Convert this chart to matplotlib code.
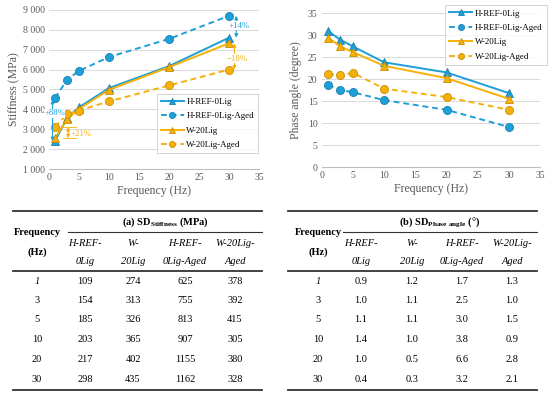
import matplotlib
matplotlib.use("Agg")
import matplotlib.pyplot as plt
from matplotlib.ticker import FuncFormatter

plt.rcParams['font.family'] = ['Liberation Serif', 'DejaVu Serif']
plt.rcParams['mathtext.fontset'] = 'custom'
plt.rcParams['mathtext.rm'] = 'Liberation Serif'
plt.rcParams['mathtext.bf'] = 'Liberation Serif:bold'

freq = [1, 3, 5, 10, 20, 30]

# stiffness (MPa)
stiff_ref = [2400, 3560, 4100, 5070, 6170, 7600]
stiff_ref_aged = [4560, 5480, 5930, 6630, 7540, 8700]
stiff_w20 = [2550, 3500, 4020, 4980, 6120, 7320]
stiff_w20_aged = [3110, 3750, 3940, 4400, 5200, 6000]

# phase angle (degree)
phase_ref = [30.9, 28.9, 27.4, 23.8, 21.5, 16.8]
phase_ref_aged = [18.7, 17.5, 17.0, 15.2, 13.0, 9.1]
phase_w20 = [29.4, 27.4, 26.1, 23.0, 20.2, 15.5]
phase_w20_aged = [21.1, 20.9, 21.4, 17.8, 15.9, 13.0]

series_names = ['H-REF-0Lig', 'H-REF-0Lig-Aged', 'W-20Lig', 'W-20Lig-Aged']

# standard deviation tables
col_heads = [('H-REF-', '0Lig'), ('W-', '20Lig'), ('H-REF-', '0Lig-Aged'), ('W-20Lig-', 'Aged')]
sd_stiff = [[109, 274, 625, 378],
            [154, 313, 755, 392],
            [185, 326, 813, 415],
            [203, 365, 907, 305],
            [217, 402, 1155, 380],
            [298, 435, 1162, 328]]
sd_phase = [['0.9', '1.2', '1.7', '1.3'],
            ['1.0', '1.1', '2.5', '1.0'],
            ['1.1', '1.1', '3.0', '1.5'],
            ['1.4', '1.0', '3.8', '0.9'],
            ['1.0', '0.5', '6.6', '2.8'],
            ['0.4', '0.3', '3.2', '2.1']]

BLUE = '#1e9fd8'
BLUE_E = '#1a7fb0'
ORANGE = '#f5b10a'
ORANGE_E = '#c98d00'
GRID = '#d9d9d9'
TXT = '#595959'

fig = plt.figure(figsize=(5.5, 3.94), dpi=100)


def style_axes(ax):
    for s in ['top', 'right', 'left']:
        ax.spines[s].set_visible(False)
    ax.spines['bottom'].set_color('#bfbfbf')
    ax.yaxis.grid(True, color=GRID, lw=0.7)
    ax.set_axisbelow(True)
    ax.tick_params(length=0, labelsize=7, colors=TXT, pad=3)
    ax.set_xlim(0, 35)
    ax.set_xticks(range(0, 36, 5))
    ax.set_xlabel('Frequency (Hz)', fontsize=8.5, color=TXT, labelpad=2)


def draw_series(ax, data):
    styles = [(BLUE, BLUE_E, '-', '^'), (BLUE, BLUE_E, '--', 'o'),
              (ORANGE, ORANGE_E, '-', '^'), (ORANGE, ORANGE_E, '--', 'o')]
    for vals, name, (c, ec, ls, m) in zip(data, series_names, styles):
        ax.plot(freq, vals, color=c, ls=ls, lw=1.4, marker=m, ms=5.8,
                mfc=c, mec=ec, mew=0.6, label=name, dashes=(3, 2) if ls == '--' else (None, None))


def make_legend(ax, loc, anchor):
    leg = ax.legend(loc=loc, bbox_to_anchor=anchor, fontsize=6.4, frameon=True,
                    fancybox=False, edgecolor='#bfbfbf', handlelength=2.6,
                    handletextpad=0.3, borderpad=0.45, labelspacing=0.7,
                    markerscale=0.75, borderaxespad=0)
    leg.get_frame().set_linewidth(0.6)
    return leg


# ---- left chart: stiffness
ax1 = fig.add_axes([0.089, 0.571, 0.382, 0.404])
style_axes(ax1)
draw_series(ax1, [stiff_ref, stiff_ref_aged, stiff_w20, stiff_w20_aged])
ax1.set_ylim(1000, 9000)
ax1.set_yticks(range(1000, 9001, 1000))
ax1.yaxis.set_major_formatter(FuncFormatter(lambda v, p: '{:,}'.format(int(v)).replace(',', ' ')))
ax1.set_ylabel('Stiffness (MPa)', fontsize=8.5, color=TXT, labelpad=2)
make_legend(ax1, 'lower right', (0.995, 0.10))

# percent annotations
arr = dict(arrowstyle='<|-|>', lw=0.8, mutation_scale=5, shrinkA=0, shrinkB=0)
ax1.annotate('', xy=(0.6, stiff_ref_aged[0] - 80), xytext=(0.6, stiff_ref[0]),
             arrowprops=dict(arr, color=BLUE))
ax1.text(0.95, 3800, '+88%', color=BLUE, fontsize=6.2, ha='center', va='center',
         bbox=dict(fc='white', ec='none', pad=0.3))
ax1.annotate('', xy=(3.2, stiff_w20_aged[0]), xytext=(3.2, stiff_w20[0]),
             arrowprops=dict(arr, color=ORANGE))
ax1.plot([2.3, 4.5], [stiff_w20_aged[0]] * 2, color=ORANGE, lw=0.6)
ax1.plot([2.3, 4.5], [stiff_w20[0]] * 2, color=ORANGE, lw=0.6)
ax1.text(3.6, 2780, '+21%', color=ORANGE, fontsize=6.3, ha='left', va='center')
ax1.annotate('', xy=(31.2, stiff_ref_aged[5]), xytext=(31.2, stiff_ref[5]),
             arrowprops=dict(arr, color=BLUE), annotation_clip=False)
ax1.text(31.6, 8200, '+14%', color=BLUE, fontsize=6.3, ha='center', va='center',
         bbox=dict(fc='white', ec='none', pad=0.5), clip_on=False)
ax1.annotate('', xy=(30.9, stiff_w20_aged[5]), xytext=(30.9, stiff_w20[5]),
             arrowprops=dict(arr, color=ORANGE), annotation_clip=False)
ax1.text(31.3, 6550, '\u221218%', color=ORANGE, fontsize=6.3, ha='center', va='center',
         bbox=dict(fc='white', ec='none', pad=0.5), clip_on=False)

# ---- right chart: phase angle
ax2 = fig.add_axes([0.585, 0.576, 0.397, 0.391])
style_axes(ax2)
draw_series(ax2, [phase_ref, phase_ref_aged, phase_w20, phase_w20_aged])
ax2.set_ylim(0, 35)
ax2.set_yticks(range(0, 36, 5))
ax2.set_ylabel('Phase angle (degree)', fontsize=8.5, color=TXT, labelpad=4)
make_legend(ax2, 'upper right', (1.03, 1.05))

# ---- tables (pixel coordinates)
tab = fig.add_axes([0, 0, 1, 1])
tab.set_xlim(0, 550)
tab.set_ylim(394, 0)
tab.axis('off')

row_y = [282, 300.5, 319.5, 339.5, 359.5, 380]
FS = 7.5


def draw_table(x0, x1, sub_x0, freq_x, col_x, title, rows):
    tab.plot([x0, x1], [211, 211], color='#333333', lw=1.3)
    tab.plot([sub_x0, x1], [232, 232], color='#333333', lw=0.8)
    tab.plot([x0, x1], [271, 271], color='#333333', lw=1.3)
    tab.plot([x0, x1], [390, 390], color='#333333', lw=1.3)
    tab.text(freq_x, 232, 'Frequency', fontsize=FS, fontweight='bold', ha='center', va='center')
    tab.text(freq_x, 252, '(Hz)', fontsize=FS, fontweight='bold', ha='center', va='center')
    tab.text((sub_x0 + x1) / 2, 222.5, title, fontsize=FS, fontweight='bold', ha='center', va='center')
    for cx, (h1, h2) in zip(col_x, col_heads):
        tab.text(cx, 243, h1, fontsize=FS, style='italic', ha='center', va='center')
        tab.text(cx, 262, h2, fontsize=FS, style='italic', ha='center', va='center')
    for f, ry, vals in zip(freq, row_y, rows):
        tab.text(freq_x, ry, str(f), fontsize=FS, ha='center', va='center',
                 style='italic' if f == 1 else 'normal')
        for cx, v in zip(col_x, vals):
            tab.text(cx, ry, str(v), fontsize=FS, ha='center', va='center')


draw_table(13, 262, 68, 37, [85, 133, 185, 235],
           r'(a) SD$_{\mathbf{Stiffness}}$ (MPa)', sd_stiff)
draw_table(288, 537, 343, 318, [361, 412, 462, 512],
           r'(b) SD$_{\mathbf{Phase\ angle}}$ (°)', sd_phase)

fig.savefig('out.png', dpi=100)
